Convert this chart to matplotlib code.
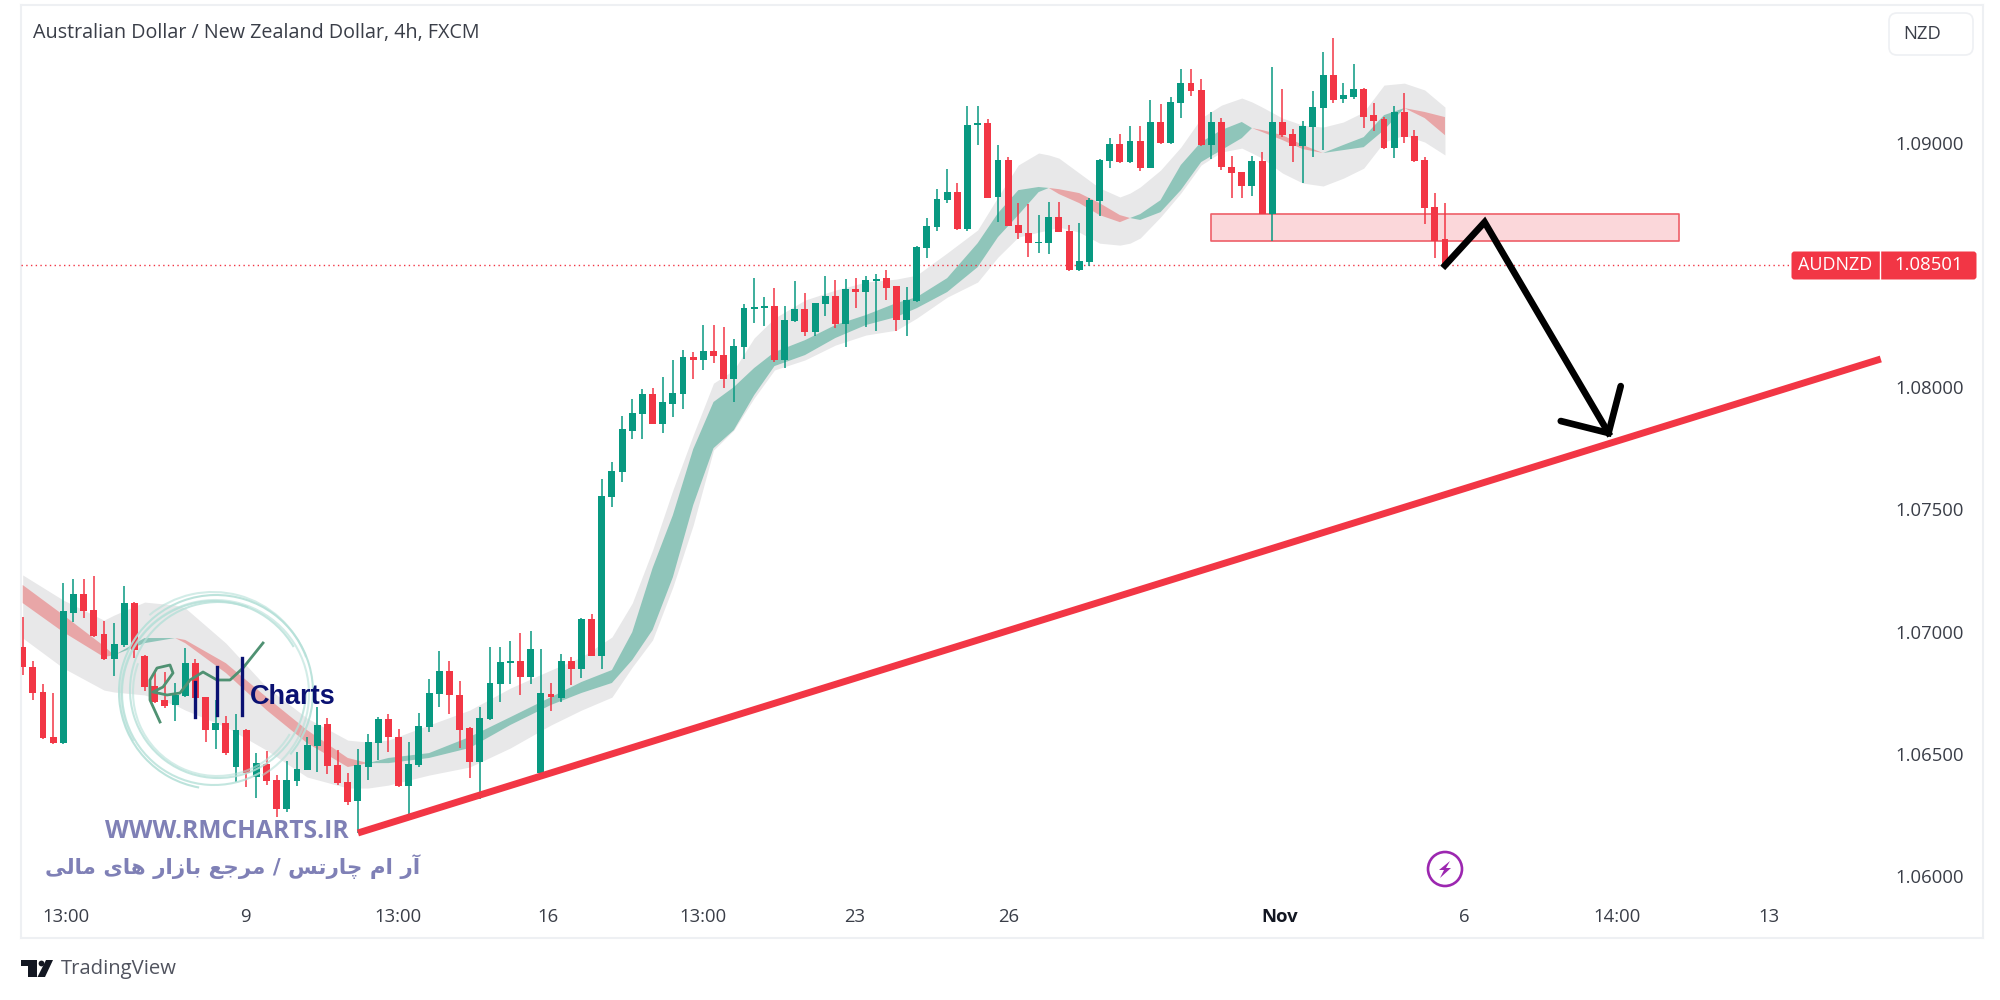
import numpy as np
import matplotlib
matplotlib.use('Agg')
import matplotlib.pyplot as plt
from matplotlib.patches import Arc, Circle, Polygon, FancyBboxPatch, Rectangle

# Precios en unidades de 0.00001 (1.08501 -> 108501)
abre = [106936, 106857, 106753, 106570, 106543, 107078, 107154, 107089, 106989, 106887, 106944, 107116, 106900, 106779, 106720, 106698, 106737, 106873, 106731, 106598, 106625, 106447, 106598, 106407, 106458, 106393, 106273, 106390, 106434, 106533, 106621, 106454, 106383, 106307, 106447, 106546, 106643, 106570, 106368, 106454, 106611, 106743, 106840, 106741, 106604, 106468, 106643, 106786, 106870, 106878, 106813, 106420, 106746, 106727, 106878, 106846, 107050, 106902, 107553, 107652, 107823, 107890, 107971, 107851, 107933, 107971, 108126, 108111, 108147, 108131, 108033, 108165, 108321, 108326, 108334, 108111, 108270, 108319, 108227, 108341, 108375, 108259, 108401, 108392, 108437, 108446, 108413, 108276, 108352, 108569, 108656, 108767, 108798, 108647, 109072, 109081, 108779, 108932, 108666, 108633, 108590, 108591, 108699, 108639, 108480, 108513, 108763, 108928, 108997, 108921, 109008, 108899, 109086, 108998, 109164, 109246, 109218, 108991, 109086, 108903, 108881, 108826, 108925, 108709, 109086, 109035, 108987, 109064, 109142, 109279, 109180, 109189, 109223, 109113, 109098, 108981, 109125, 109030, 108931, 108738, 108606]
alto = [107061, 106881, 106786, 106748, 107200, 107214, 107214, 107228, 107045, 107034, 107187, 107121, 106904, 106840, 106835, 106788, 106934, 106889, 106734, 106720, 106656, 106663, 106600, 106502, 106510, 106413, 106471, 106508, 106570, 106693, 106645, 106516, 106420, 106518, 106580, 106652, 106663, 106600, 106547, 106668, 106808, 106922, 106878, 106799, 106608, 106693, 106939, 106936, 106962, 106996, 107002, 106929, 106791, 106907, 106895, 107054, 107072, 107624, 107696, 107883, 107951, 107993, 107999, 108044, 108111, 108153, 108146, 108254, 108254, 108247, 108197, 108340, 108446, 108368, 108408, 108334, 108434, 108385, 108347, 108457, 108439, 108445, 108446, 108457, 108463, 108479, 108413, 108412, 108578, 108692, 108811, 108892, 108838, 109152, 109153, 109097, 108992, 108941, 108756, 108749, 108705, 108760, 108760, 108665, 108671, 108774, 108935, 109019, 109037, 109070, 109070, 109175, 109158, 109189, 109301, 109301, 109261, 109128, 109101, 108946, 108881, 108946, 108963, 109312, 109219, 109057, 109091, 109212, 109372, 109428, 109247, 109324, 109226, 109162, 109107, 109151, 109203, 109053, 108941, 108794, 108754]
bajo = [106824, 106720, 106559, 106540, 106540, 107041, 107056, 106977, 106885, 106818, 106936, 106891, 106758, 106707, 106686, 106636, 106734, 106720, 106548, 106520, 106494, 106386, 106363, 106318, 106371, 106240, 106263, 106368, 106432, 106427, 106416, 106372, 106291, 106175, 106393, 106475, 106509, 106365, 106236, 106447, 106588, 106693, 106663, 106522, 106400, 106314, 106640, 106713, 106786, 106741, 106786, 106418, 106676, 106713, 106780, 106809, 106900, 106846, 107509, 107614, 107789, 107789, 107850, 107812, 107880, 107910, 108033, 108071, 108100, 107999, 107940, 108115, 108265, 108252, 108102, 108078, 108268, 108210, 108210, 108292, 108243, 108165, 108325, 108248, 108232, 108357, 108232, 108210, 108350, 108531, 108641, 108756, 108645, 108641, 108992, 108774, 108678, 108660, 108609, 108535, 108551, 108546, 108634, 108478, 108478, 108498, 108701, 108899, 108919, 108919, 108887, 108897, 108997, 108995, 109103, 109193, 108989, 108933, 108889, 108773, 108773, 108784, 108709, 108600, 109023, 108921, 108837, 108944, 108971, 109165, 109162, 109181, 109060, 109050, 108977, 108937, 108998, 108923, 108668, 108529, 108499]
cierre = [106854, 106748, 106563, 106543, 107083, 107154, 107083, 106982, 106887, 106949, 107116, 106925, 106775, 106713, 106697, 106741, 106873, 106727, 106598, 106625, 106502, 106598, 106420, 106461, 106387, 106273, 106393, 106437, 106536, 106618, 106450, 106379, 106304, 106453, 106548, 106643, 106568, 106368, 106458, 106614, 106748, 106840, 106741, 106598, 106468, 106648, 106791, 106874, 106880, 106813, 106929, 106747, 106731, 106878, 106846, 107050, 106902, 107557, 107658, 107828, 107895, 107971, 107851, 107939, 107977, 108126, 108111, 108147, 108127, 108033, 108169, 108325, 108329, 108334, 108111, 108276, 108319, 108227, 108347, 108375, 108259, 108401, 108392, 108439, 108445, 108408, 108276, 108357, 108573, 108660, 108771, 108798, 108647, 109074, 109081, 108776, 108932, 108662, 108630, 108591, 108595, 108699, 108636, 108480, 108517, 108767, 108932, 108997, 108921, 109008, 108898, 109086, 108999, 109169, 109246, 109214, 108991, 109086, 108900, 108878, 108826, 108925, 108709, 109086, 109032, 108987, 109069, 109146, 109279, 109178, 109196, 109223, 109107, 109091, 108979, 109125, 109026, 108925, 108734, 108600, 108501]

cinta_x = [0, 4, 8, 9, 12, 15, 16, 20, 24, 28, 32, 34, 36, 40, 44, 48, 52, 55, 58, 60, 62, 64, 66, 68, 70, 72, 74, 77, 80, 83, 86, 88, 91, 94, 96, 98, 100, 101, 102, 104, 106, 108, 109, 110, 112, 114, 116, 118, 120, 121, 122, 124, 126, 128, 130, 132, 134, 136, 138, 140]
banda_sup = [107232, 107129, 107047, 107068, 107121, 107109, 107097, 106953, 106773, 106646, 106556, 106548, 106556, 106618, 106679, 106769, 106843, 106896, 106978, 107117, 107334, 107580, 107805, 108017, 108071, 108202, 108283, 108357, 108398, 108431, 108443, 108459, 108550, 108644, 108779, 108910, 108959, 108951, 108938, 108877, 108816, 108779, 108795, 108820, 108889, 108983, 109102, 109155, 109184, 109168, 109147, 109102, 109073, 109065, 109086, 109127, 109237, 109245, 109217, 109147]
banda_inf = [106974, 106851, 106761, 106753, 106741, 106700, 106679, 106610, 106515, 106405, 106360, 106360, 106372, 106413, 106446, 106524, 106618, 106679, 106732, 106855, 106966, 107183, 107436, 107743, 107825, 107956, 108071, 108112, 108173, 108214, 108234, 108283, 108369, 108431, 108533, 108615, 108635, 108644, 108656, 108635, 108590, 108582, 108590, 108611, 108697, 108795, 108910, 108963, 108979, 108959, 108938, 108877, 108836, 108824, 108856, 108897, 109004, 109032, 109004, 108951]
media_rapida = [107117, 106998, 106896, 106904, 106974, 106974, 106953, 106831, 106679, 106544, 106446, 106462, 106483, 106503, 106569, 106650, 106732, 106794, 106843, 106998, 107260, 107477, 107747, 107940, 108001, 108079, 108144, 108193, 108255, 108296, 108345, 108369, 108447, 108590, 108713, 108807, 108820, 108816, 108791, 108754, 108705, 108676, 108693, 108709, 108766, 108910, 109004, 109053, 109086, 109061, 109045, 109012, 108975, 108959, 108992, 109024, 109114, 109143, 109102, 109032]
media_lenta = [107191, 107068, 106941, 106904, 106953, 106974, 106966, 106871, 106732, 106597, 106483, 106462, 106462, 106483, 106524, 106618, 106700, 106749, 106790, 106884, 107007, 107223, 107518, 107751, 107825, 107968, 108087, 108132, 108202, 108255, 108288, 108324, 108390, 108492, 108615, 108705, 108799, 108816, 108811, 108795, 108754, 108705, 108693, 108685, 108717, 108807, 108922, 108971, 109020, 109061, 109053, 109032, 108992, 108959, 108971, 108983, 109053, 109143, 109127, 109106]

# Dibujos sobre el grafico: (vela, precio)
tendencia_x = [33.0, 182.9]
tendencia_y = [106176, 108116]
zona_x = [117.0, 163.0]
zona_y = [108599, 108709]
flecha_x = [140.0, 143.9, 156.1]
flecha_y = [108499, 108676, 107813]
punta_x = [151.4, 156.1, 157.3]
punta_y = [107862, 107813, 108005]
ultimo_precio = 108501

precios_eje = [106000, 106500, 107000, 107500, 108000, 108500, 109000]
etiquetas_y = ['1.06000', '1.06500', '1.07000', '1.07500', '1.08000', '', '1.09000']
ticks_x = [4.3, 21.9, 36.9, 51.7, 67.0, 81.9, 97.1, 123.7, 141.9, 156.9, 171.9]
etiquetas_x = ['13:00', '9', '13:00', '16', '13:00', '23', '26', 'Nov', '6', '14:00', '13']

VERDE = '#089981'
ROJO = '#F23645'
BORDE = '#EEF0F3'
TEXTO = '#3a3e48'
WATER = '#7F80B6'

plt.rcParams['font.family'] = ['Open Sans', 'DejaVu Sans']

fig = plt.figure(figsize=(20, 10), dpi=100, facecolor='white')
ax = fig.add_axes([21 / 2000, 1 - 938 / 1000, 1962 / 2000, 933 / 1000])

abre, alto, bajo, cierre = [np.array(v) / 1e5 for v in (abre, alto, bajo, cierre)]
velas = np.arange(len(abre))
cinta_x = np.array(cinta_x)
rapida = np.array(media_rapida) / 1e5
lenta = np.array(media_lenta) / 1e5

# Cinta
ax.fill_between(cinta_x, np.array(banda_inf) / 1e5, np.array(banda_sup) / 1e5,
                color='#E8E8E9', lw=0, zorder=1)
ax.fill_between(cinta_x, rapida, lenta, where=rapida >= lenta, interpolate=True,
                color='#8FC5BA', lw=0, zorder=2)
ax.fill_between(cinta_x, rapida, lenta, where=rapida <= lenta, interpolate=True,
                color='#E8A6A7', lw=0, zorder=2)

# Zona y linea del ultimo precio
ax.fill_between(zona_x, zona_y[0] / 1e5, zona_y[1] / 1e5, facecolor='#FBD7DA',
                edgecolor='#EE5F68', lw=1.2, zorder=3)
ax.axhline(ultimo_precio / 1e5, xmax=(1791 - 21) / 1962, color=ROJO, lw=1,
           ls=(0, (1, 2.4)), zorder=3)

# Velas
colores = [VERDE if c >= o else ROJO for o, c in zip(abre, cierre)]
ax.vlines(velas, bajo, alto, colors=colores, lw=1.1, zorder=4)
ax.bar(velas, np.abs(cierre - abre), bottom=np.minimum(abre, cierre), width=0.68,
       color=colores, lw=0, zorder=5)

# Linea de tendencia y flecha
ax.plot(tendencia_x, np.array(tendencia_y) / 1e5, color=ROJO, lw=5,
        solid_capstyle='butt', zorder=6)
ax.plot(flecha_x, np.array(flecha_y) / 1e5, color='black', lw=4.8,
        solid_joinstyle='miter', zorder=7)
ax.plot(punta_x, np.array(punta_y) / 1e5, color='black', lw=4.8,
        solid_joinstyle='miter', solid_capstyle='round', zorder=7)

ax.set_xlim(-0.167, 192.96)
ax.set_ylim(1.057462, 1.095648)
ax.yaxis.tick_right()
ax.set_yticks(np.array(precios_eje) / 1e5, etiquetas_y)
ax.set_xticks(ticks_x, etiquetas_x)
ax.tick_params(axis='y', length=0, pad=-63, labelsize=13.3, labelcolor=TEXTO)
ax.tick_params(axis='x', length=0, pad=-21.6, labelsize=13.3, labelcolor=TEXTO)
ax.get_xticklabels()[7].set_color('#131722')
ax.get_xticklabels()[7].set_fontweight('bold')
for lado in ax.spines.values():
    lado.set_color(BORDE)
    lado.set_linewidth(1.5)

# Capa en pixeles para textos y logos que no son datos
ov = fig.add_axes([0, 0, 1, 1], zorder=10)
ov.set_xlim(0, 2000)
ov.set_ylim(1000, 0)
ov.axis('off')

ov.text(33, 33, 'Australian Dollar / New Zealand Dollar, 4h, FXCM', fontsize=14.2,
        color=TEXTO, va='center')

ov.add_patch(FancyBboxPatch((1892, 16), 78, 36, boxstyle='round,pad=3,rounding_size=8',
                            fc='white', ec=BORDE, lw=1.2))
ov.text(1903, 34, 'NZD', fontsize=13.3, color=TEXTO, va='center')

# Etiqueta del ultimo precio
ov.add_patch(FancyBboxPatch((1793, 253), 182, 25, boxstyle='round,pad=1.5,rounding_size=3',
                            fc=ROJO, ec=ROJO, lw=0))
ov.plot([1880, 1880], [251, 280], color='white', lw=1)
ov.text(1835.5, 265.5, 'AUDNZD', fontsize=13, color='white', ha='center', va='center')
ov.text(1929, 265.5, '1.08501', fontsize=13.3, color='white', ha='center', va='center')

# Marca de agua: circulos
for cx, cy, r, t1, t2, a in [(216, 692, 97, 100, 400, 0.9), (214, 693, 92, 60, 330, 0.8),
                             (218, 690, 88, 0, 290, 0.8), (215, 694, 94, 150, 420, 0.6),
                             (217, 692, 84, 30, 200, 0.6), (213, 691, 99, 230, 340, 0.6)]:
    ov.add_patch(Arc((cx, cy), 2 * r, 2 * r, theta1=t1, theta2=t2, color='#B5E0D8',
                     lw=1.5, alpha=a))
ov.plot([160, 150, 150, 157, 170, 173, 163, 153, 167, 180, 190, 203, 217, 230, 243, 263],
        [722, 700, 680, 668, 665, 673, 687, 692, 695, 693, 680, 672, 680, 680, 668, 643],
        color='#4F9172', lw=2)
for x, y0, y1 in [(195, 682, 717), (217, 667, 715), (242, 658, 715)]:
    ov.plot([x, x], [y0, y1], color='#0A1172', lw=2.4)
ov.text(250, 697, 'Charts', fontsize=19.5, fontweight='bold', color='#0A1172', va='center',
        family='Liberation Sans')
ov.text(105, 831, 'WWW.RMCHARTS.IR', fontsize=17.7, fontweight='bold', color=WATER, va='center')
# Formas de presentacion ya en orden visual dentro de cada palabra, matplotlib no enlaza el arabe
persa = ('\uFEAD\uFE81 \uFEE1\uFE8D \uFEB2\uFE97\uFEAD\uFE8E\uFB7C / '
         '\uFECA\uFE9F\uFEAE\uFEE3 \uFEAD\uFE8D\uFEAF\uFE8E\uFE91 '
         '\uFBFC\uFE8E\uFEEB \uFBFD\uFEDF\uFE8E\uFEE3')
persa = ' '.join(persa.split(' ')[::-1])
ov.text(420, 867, persa, fontsize=15.4, fontweight='bold', color=WATER, ha='right', va='center',
        family='DejaVu Sans')

# Icono del rayo
ov.add_patch(Circle((1445, 869), 17, fc='white', ec='#9C27B0', lw=1.9))
ov.add_patch(Polygon([[1450, 861], [1439, 870], [1444, 870], [1440, 878], [1451, 868],
                      [1446, 868]], fc='#9C27B0', ec='none'))

# Logo TradingView
ov.add_patch(Rectangle((21, 960), 16, 6, fc='#131722', ec='none'))
ov.add_patch(Rectangle((27.5, 960), 9.5, 17, fc='#131722', ec='none'))
ov.add_patch(Circle((41.5, 963.5), 2.9, fc='#131722', ec='none'))
ov.add_patch(Polygon([[53, 960], [45, 977], [37.5, 977], [46, 960]], fc='#131722', ec='none'))
ov.text(61, 969, 'TradingView', fontsize=14.6, color='#50535E', va='center')

fig.savefig('out.png', dpi=100)
